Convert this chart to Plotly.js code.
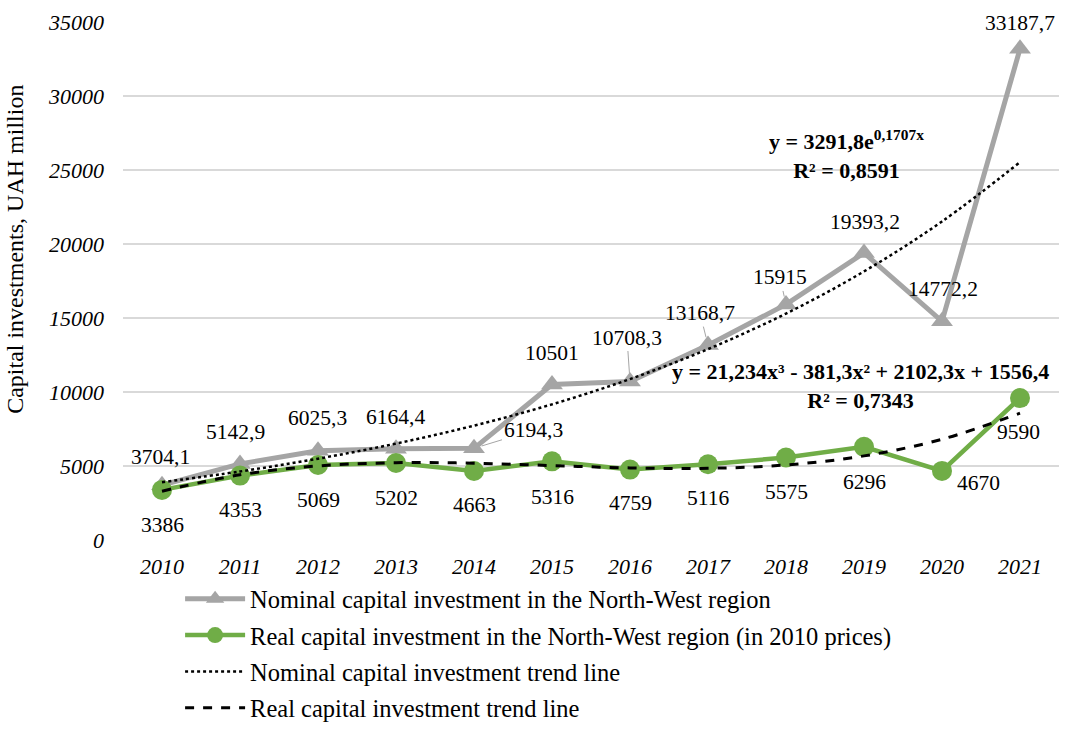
<!DOCTYPE html>
<html>
<head>
<meta charset="utf-8">
<script src="https://cdn.plot.ly/plotly-3.0.1.min.js"></script>
<style>html,body{margin:0;padding:0;background:#fff;}#chart{width:1074px;height:729px;}</style>
</head>
<body>
<div id="chart"></div>
<script>
// ---- data ----
const years = ["2010","2011","2012","2013","2014","2015","2016","2017","2018","2019","2020","2021"];
const nominal = [3704.1, 5142.9, 6025.3, 6164.4, 6194.3, 10501, 10708.3, 13168.7, 15915, 19393.2, 14772.2, 33187.7];
const real = [3386, 4353, 5069, 5202, 4663, 5316, 4759, 5116, 5575, 6296, 4670, 9590];
// trend line equations as printed on the chart
const expCoef = [3291.8, 0.1707];                   // y = a * e^(b x)
const polyCoef = [21.234, -381.3, 2102.3, 1556.4];  // y = c3 x^3 + c2 x^2 + c1 x + c0
const expR2 = "0,8591";
const polyR2 = "0,7343";
const yTitle = "Capital investments, UAH million";
const seriesNames = [
  "Nominal capital investment in the North-West region",
  "Real capital investment in the North-West region (in 2010 prices)",
  "Nominal capital investment trend line",
  "Real capital investment trend line"
];

const xPos = years.map((_, i) => i);          // category positions
const xIdx = years.map((_, i) => i + 1);      // trend-line x (1..12)
const expTrend = xIdx.map(x => expCoef[0] * Math.exp(expCoef[1] * x));
const polyTrend = xIdx.map(x => polyCoef[0]*x*x*x + polyCoef[1]*x*x + polyCoef[2]*x + polyCoef[3]);

const fmt = v => String(v).replace('.', ',');
const FONT = "'Liberation Serif', 'Times New Roman', serif";

// label pixel offsets (ax, ay) relative to the point, and whether a leader line is shown
const nomOff = [[-2,-28,0],[-5,-32,0],[-1,-33,0],[-1,-32,0],[59,-18,1],[0,-32,0],[-3,-44,1],[-8,-32,1],[-6,-27,1],[1,-31,0],[1,-32,0],[0,-26,0]];
const realOff = [[0,35],[0,34],[0,35],[0,35],[0,34],[0,36],[0,33],[0,34],[0,35],[0,35],[36,12],[-2,34]];

const traces = [
  {x: years, y: nominal, name: seriesNames[0], legendgroup: 'a', type: 'scatter', mode: 'lines+markers',
   line: {color: '#A5A5A5', width: 5}, marker: {symbol: 'triangle-up', size: 19, color: '#A5A5A5'}},
  {x: years, y: real, name: seriesNames[1], legendgroup: 'b', type: 'scatter', mode: 'lines+markers',
   line: {color: '#70AD47', width: 4.5}, marker: {symbol: 'circle', size: 20, color: '#70AD47'}},
  {x: years, y: expTrend, name: seriesNames[2], legendgroup: 'c', type: 'scatter', mode: 'lines',
   line: {color: '#000000', width: 2.5, dash: 'dot', shape: 'spline'}},
  {x: years, y: polyTrend, name: seriesNames[3], legendgroup: 'd', type: 'scatter', mode: 'lines',
   line: {color: '#000000', width: 3, dash: 'dash', shape: 'spline'}}
];

const LBL = {family: FONT, size: 21.5, color: '#000'};
const annotations = [];
years.forEach((yr, i) => {
  const o = nomOff[i];
  annotations.push({x: xPos[i], y: nominal[i], xref: 'x', yref: 'y', text: fmt(nominal[i]),
    showarrow: true, ax: o[0], ay: o[1], arrowhead: 0, arrowwidth: 1,
    arrowcolor: o[2] ? '#A5A5A5' : 'rgba(0,0,0,0)', standoff: 8, font: LBL});
  const r = realOff[i];
  annotations.push({x: xPos[i], y: real[i], xref: 'x', yref: 'y', text: fmt(real[i]),
    showarrow: true, ax: r[0], ay: r[1], arrowhead: 0, arrowcolor: 'rgba(0,0,0,0)', font: LBL});
});
annotations.push({xref: 'paper', yref: 'paper', x: 0.7735, y: 0.745, xanchor: 'center', yanchor: 'middle', showarrow: false,
  text: '<b>y = ' + fmt(expCoef[0]) + 'e<sup>' + fmt(expCoef[1]) + 'x</sup><br>R² = ' + expR2 + '</b>',
  font: {family: FONT, size: 22, color: '#000'}, align: 'center'});
annotations.push({xref: 'paper', yref: 'paper', x: 0.7875, y: 0.2965, xanchor: 'center', yanchor: 'middle', showarrow: false,
  text: '<b>y = ' + fmt(polyCoef[0]) + 'x³ - ' + fmt(-polyCoef[1]) + 'x² + ' + fmt(polyCoef[2]) + 'x + ' + fmt(polyCoef[3]) + '<br>R² = ' + polyR2 + '</b>',
  font: {family: FONT, size: 22, color: '#000'}, align: 'center'});
// y-axis title (placed like the original, slightly above the plot-area centre)
annotations.push({xref: 'paper', yref: 'paper', x: -0.1154, y: 0.562, xanchor: 'center', yanchor: 'middle',
  showarrow: false, textangle: -90, text: yTitle, font: {family: FONT, size: 24, color: '#000'}});

const layout = {
  width: 1074, height: 729,
  margin: {l: 123, r: 15, t: 22, b: 189, autoexpand: false},
  paper_bgcolor: '#fff', plot_bgcolor: '#fff',
  font: {family: FONT, size: 21, color: '#000'},
  showlegend: true,
  legend: {orientation: 'v', x: 0.061, xanchor: 'left', y: -0.07, yanchor: 'top',
    font: {family: FONT, size: 24.5, color: '#000'}, tracegroupgap: 1.5, traceorder: 'grouped',
    itemwidth: 60, bgcolor: 'rgba(0,0,0,0)'},
  xaxis: {type: 'category', range: [-0.5, 11.5], autorange: false, showgrid: false, zeroline: false, showline: false,
    tickfont: {family: FONT, size: 22, style: 'italic', color: '#000'}, ticks: '', ticklabelstandoff: 11},
  yaxis: {range: [0, 35000], autorange: false, dtick: 5000, tick0: 0, tickformat: 'd',
    showgrid: true, gridcolor: '#D9D9D9', gridwidth: 1.5,
    zeroline: false, showline: false, ticks: '', ticklabelstandoff: 18,
    tickfont: {family: FONT, size: 22, style: 'italic', color: '#000'}},
  annotations: annotations
};

Plotly.newPlot('chart', traces, layout, {displayModeBar: false, staticPlot: true});
</script>
</body>
</html>
